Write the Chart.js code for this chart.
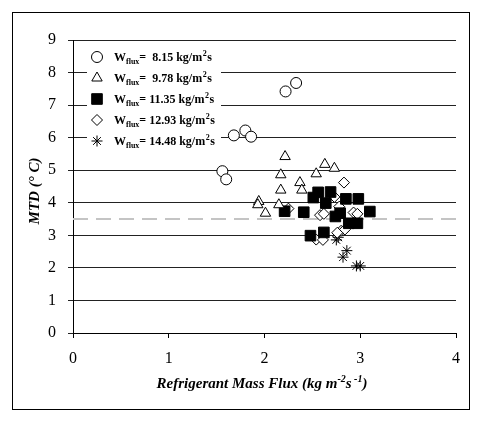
<!DOCTYPE html>
<html><head><meta charset="utf-8">
<script src="https://cdn.jsdelivr.net/npm/chart.js@4.4.1/dist/chart.umd.min.js"></script>
<style>html,body{margin:0;padding:0;background:#fff;}</style>
</head><body>
<canvas id="c" width="494" height="432"></canvas>
<script>
// ---- data ----
const seriesNames = ['8.15', '9.78', '11.35', '12.93', '14.48'];
const circleX = [1.56, 1.60, 1.68, 1.80, 1.86, 2.22, 2.33];
const circleY = [4.97, 4.72, 6.07, 6.22, 6.03, 7.42, 7.68];
const triX = [2.215, 2.17, 2.63, 2.73, 2.54, 2.37, 2.17, 2.39, 2.15, 1.94, 1.93, 2.01];
const triY = [5.42, 4.86, 5.18, 5.06, 4.89, 4.62, 4.39, 4.39, 3.94, 4.04, 3.94, 3.68];
const sqX = [2.56, 2.69, 2.51, 2.64, 2.85, 2.98, 2.21, 2.41, 2.74, 2.79, 3.10, 2.88, 2.97, 2.48, 2.62];
const sqY = [4.32, 4.33, 4.16, 3.99, 4.12, 4.12, 3.74, 3.71, 3.58, 3.68, 3.73, 3.37, 3.37, 2.99, 3.09];
const diaX = [2.25, 2.58, 2.62, 2.78, 2.83, 2.73, 2.93, 2.97, 2.80, 2.84, 2.54, 2.61, 2.76];
const diaY = [3.82, 3.62, 3.66, 3.88, 4.62, 4.18, 3.70, 3.66, 3.14, 3.18, 2.87, 2.86, 3.08];
const starX = [2.77, 2.75, 2.86, 2.82, 2.96, 3.00];
const starY = [2.94, 2.86, 2.53, 2.33, 2.06, 2.06];
const thresholdMTD = 3.5;
const xTicks = [0, 1, 2, 3, 4];
const yTicks = [0, 1, 2, 3, 4, 5, 6, 7, 8, 9];

const pts = (xs, ys) => xs.map((x, i) => ({x: x, y: ys[i]}));
const SERIF = '"Liberation Serif", "Times New Roman", serif';

const styles = [
  {pointStyle: 'circle', radius: 5.5, fill: '#fff'},
  {pointStyle: 'triangle', radius: 6, fill: '#fff'},
  {pointStyle: 'rect', radius: 7.5, fill: '#000'},
  {pointStyle: 'rectRot', radius: 5.5, fill: '#fff'},
  {pointStyle: 'star', radius: 5.5, fill: '#fff'}
];
const seriesData = [pts(circleX, circleY), pts(triX, triY), pts(sqX, sqY), pts(diaX, diaY), pts(starX, starY)];

const datasets = seriesData.map((d, i) => ({
  type: 'scatter',
  label: seriesNames[i],
  data: d,
  pointStyle: styles[i].pointStyle,
  pointRadius: styles[i].radius,
  pointBackgroundColor: styles[i].fill,
  pointBorderColor: '#000',
  pointBorderWidth: 1,
  order: 1
}));
datasets.unshift({
  type: 'line',
  label: 'threshold',
  data: [{x: xTicks[0], y: thresholdMTD}, {x: xTicks[xTicks.length - 1], y: thresholdMTD}],
  borderColor: '#c4c4c4',
  borderWidth: 2,
  borderDash: [15, 8],
  pointRadius: 0,
  order: 10
});

const decorPlugin = {
  id: 'decor',
  beforeDraw(chart) {
    const ctx = chart.ctx;
    ctx.save();
    ctx.fillStyle = '#fff';
    ctx.fillRect(0, 0, chart.width, chart.height);
    ctx.restore();
  },
  afterDraw(chart) {
    const ctx = chart.ctx;
    ctx.save();
    // outer frame
    ctx.strokeStyle = '#000';
    ctx.lineWidth = 1;
    ctx.strokeRect(12.5, 12.5, 457, 397);

    // legend box
    ctx.fillStyle = '#fff';
    ctx.fillRect(87, 45, 134, 105);
    const rowY = [57, 78, 99, 120, 141];
    for (let i = 0; i < seriesNames.length; i++) {
      const y = rowY[i];
      ctx.fillStyle = styles[i].fill;
      ctx.strokeStyle = '#000';
      ctx.lineWidth = 1;
      Chart.helpers.drawPoint(ctx, {pointStyle: styles[i].pointStyle, radius: styles[i].radius, borderWidth: 1, rotation: 0}, 97, y);
      // text
      let x = 114;
      ctx.fillStyle = '#000';
      ctx.textBaseline = 'alphabetic';
      ctx.textAlign = 'left';
      const base = y + 4;
      ctx.font = 'bold 12px ' + SERIF;
      ctx.fillText('W', x, base); x += ctx.measureText('W').width;
      ctx.font = 'bold 8px ' + SERIF;
      ctx.fillText('flux', x, base + 3); x += ctx.measureText('flux').width;
      ctx.font = 'bold 12px ' + SERIF;
      const v = seriesNames[i].length < 5 ? '=  ' + seriesNames[i] : '= ' + seriesNames[i];
      const t = v + ' kg/m';
      ctx.fillText(t, x, base); x += ctx.measureText(t).width;
      ctx.font = 'bold 8px ' + SERIF;
      ctx.fillText('2', x + 0.5, base - 5); x += ctx.measureText('2').width + 1;
      ctx.font = 'bold 12px ' + SERIF;
      ctx.fillText('s', x, base);
    }

    // y axis title
    ctx.save();
    ctx.translate(35, 191);
    ctx.rotate(-Math.PI / 2);
    ctx.font = 'italic bold 15px ' + SERIF;
    ctx.textAlign = 'center';
    ctx.textBaseline = 'middle';
    ctx.fillStyle = '#000';
    ctx.fillText('MTD (\u00B0 C)', 0, 0);
    ctx.restore();

    // x axis title with superscripts
    const parts = [
      {t: 'Refrigerant Mass Flux (kg m', sup: false},
      {t: '-2', sup: true},
      {t: 's', sup: false},
      {t: ' -1', sup: true},
      {t: ')', sup: false}
    ];
    const mainFont = 'italic bold 15px ' + SERIF;
    const supFont = 'italic bold 10px ' + SERIF;
    let total = 0;
    parts.forEach(p => { ctx.font = p.sup ? supFont : mainFont; total += ctx.measureText(p.t).width; });
    let xx = 262 - total / 2;
    ctx.textAlign = 'left';
    ctx.textBaseline = 'alphabetic';
    ctx.fillStyle = '#000';
    parts.forEach(p => {
      ctx.font = p.sup ? supFont : mainFont;
      ctx.fillText(p.t, xx, p.sup ? 382 : 388);
      xx += ctx.measureText(p.t).width;
    });
    ctx.restore();
  }
};

new Chart(document.getElementById('c'), {
  data: {datasets: datasets},
  options: {
    responsive: false,
    animation: false,
    devicePixelRatio: 1,
    layout: {padding: {left: 0, top: 40, right: 38, bottom: 0}},
    plugins: {legend: {display: false}, tooltip: {enabled: false}},
    scales: {
      x: {
        type: 'linear',
        min: 0, max: 4,
        afterBuildTicks: s => { s.ticks = xTicks.map(v => ({value: v})); },
        afterFit: s => { s.height = 99; },
        grid: {drawOnChartArea: false, drawTicks: true, tickLength: 5, color: '#000'},
        border: {display: true, color: '#000', width: 1},
        ticks: {color: '#000', font: {family: SERIF, size: 16}, padding: 11, maxRotation: 0}
      },
      y: {
        type: 'linear',
        min: 0, max: 9,
        afterBuildTicks: s => { s.ticks = yTicks.map(v => ({value: v})); },
        afterFit: s => { s.width = 73; },
        grid: {drawOnChartArea: true, drawTicks: true, tickLength: 5, color: '#222', lineWidth: 1},
        border: {display: true, color: '#000', width: 1},
        ticks: {color: '#000', font: {family: SERIF, size: 16}, padding: 12}
      }
    }
  },
  plugins: [decorPlugin]
});
</script>
</body></html>
